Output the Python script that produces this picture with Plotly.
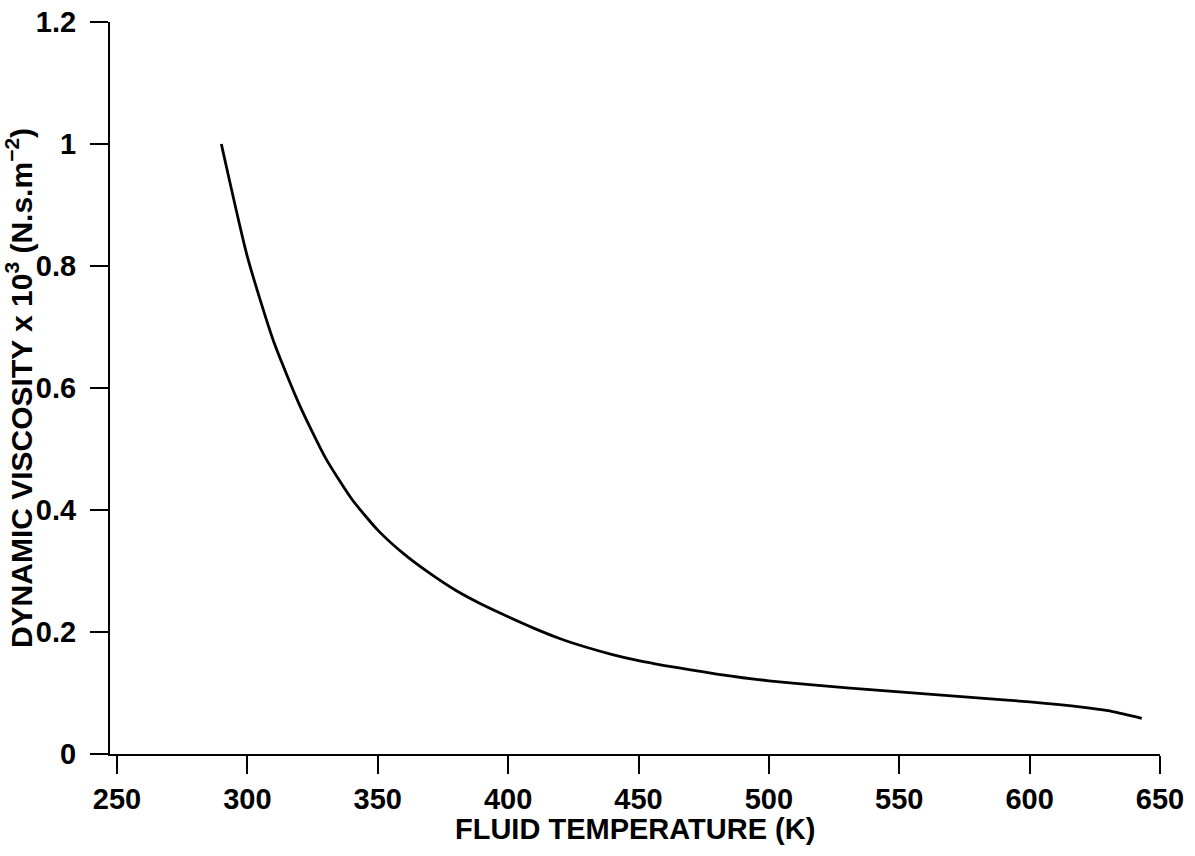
import plotly.graph_objects as go

# Fluid temperature (K)
temperature = [290, 300, 310, 320, 330, 340, 350, 360, 370, 380, 390, 400,
               410, 420, 430, 440, 450, 460, 470, 480, 490, 500, 520, 540,
               560, 580, 600, 620, 630, 643]
# Dynamic viscosity x 10^3 (N.s.m^-2)
viscosity = [1.00, 0.815, 0.677, 0.572, 0.485, 0.418, 0.367, 0.328, 0.296,
             0.268, 0.245, 0.225, 0.206, 0.189, 0.175, 0.163, 0.153, 0.145,
             0.138, 0.131, 0.125, 0.120, 0.112, 0.105, 0.0985, 0.092, 0.0855,
             0.077, 0.071, 0.0585]

x_ticks = [250, 300, 350, 400, 450, 500, 550, 600, 650]
y_ticks = [0, 0.2, 0.4, 0.6, 0.8, 1, 1.2]
y_tick_text = ["0", "0.2", "0.4", "0.6", "0.8", "1", "1.2"]

x_title = "FLUID TEMPERATURE (K)"
y_title = "DYNAMIC VISCOSITY x 10<sup>3</sup> (N.s.m<sup>\u22122</sup>)"

FONT = "Liberation Sans, Arial, sans-serif"

fig = go.Figure()
fig.add_trace(go.Scatter(
    x=temperature, y=viscosity, mode="lines",
    line=dict(color="black", width=2.8, shape="spline", smoothing=0.6),
    showlegend=False, hoverinfo="x+y",
))

fig.update_layout(
    width=1195, height=856,
    margin=dict(l=110, r=35, t=22, b=102, autoexpand=False),
    paper_bgcolor="white", plot_bgcolor="white",
    font=dict(family=FONT, color="black", size=29, weight="bold"),
    annotations=[dict(
        text=x_title, xref="paper", yref="paper", x=0.5, y=0,
        xanchor="center", yanchor="middle", yshift=-75, showarrow=False,
        font=dict(family=FONT, size=29, color="black", weight="bold"),
    )],
)

fig.update_xaxes(
    range=[247.3, 650],
    tickmode="array", tickvals=x_ticks, ticktext=[str(t) for t in x_ticks],
    ticks="outside", ticklen=18, tickwidth=1.6, tickcolor="black",
    ticklabelstandoff=0,
    tickfont=dict(family=FONT, size=29, color="black", weight="bold"),
    showline=True, linecolor="black", linewidth=2,
    showgrid=False, zeroline=False,
)

fig.update_yaxes(
    range=[0, 1.2],
    tickmode="array", tickvals=y_ticks, ticktext=y_tick_text,
    ticks="outside", ticklen=18, tickwidth=1.8, tickcolor="black",
    ticklabelstandoff=8,
    tickfont=dict(family=FONT, size=29, color="black", weight="bold"),
    showline=True, linecolor="black", linewidth=2,
    showgrid=False, zeroline=False,
    title=dict(text=y_title,
               font=dict(family=FONT, size=30, color="black", weight="bold"),
               standoff=0),
)

fig.write_html("out.html")
